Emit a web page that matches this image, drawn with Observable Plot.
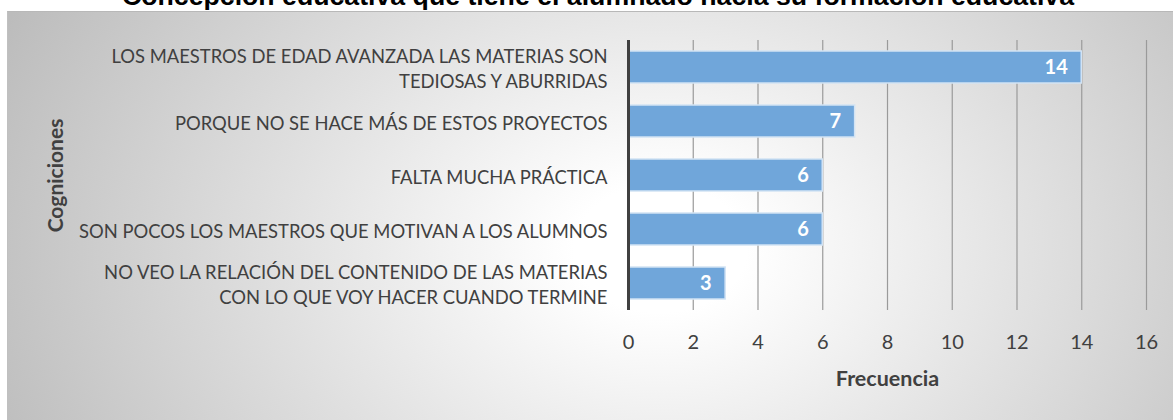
<!DOCTYPE html>
<html>
<head>
<meta charset="utf-8">
<script src="https://cdn.jsdelivr.net/npm/d3@7"></script>
<script src="https://cdn.jsdelivr.net/npm/@observablehq/plot@0.6"></script>
<style>
  html, body { margin: 0; padding: 0; background: #fff; }
  #wrap { position: relative; width: 1173px; height: 420px; overflow: hidden; }
  #box { position: absolute; left: 7px; top: 11px; width: 1166px; height: 409px;
    border-top: 1px solid #b8b8b8; border-left: 1px solid #c0c0c0; box-sizing: border-box;
    background: radial-gradient(ellipse 62% 130% at 56% 58%, #ffffff 12%, #bcbcbc 100%); }
  #title { position: absolute; left: 0; width: 1196px; top: -17px; text-align: center;
    font: bold 26.7px "Liberation Sans", Arial, sans-serif; line-height: 27px; color: #000; white-space: nowrap; }
  #chart { position: absolute; left: 0; top: 0; }
</style>
</head>
<body>
<div id="wrap">
  <div id="box"></div>
  <div id="title">Concepción educativa que tiene el alumnado hacia su formación educativa</div>
  <div id="chart"></div>
</div>
<script>
const categorias = [
  "LOS MAESTROS DE EDAD AVANZADA LAS MATERIAS SON\nTEDIOSAS Y ABURRIDAS",
  "PORQUE NO SE HACE MÁS DE ESTOS PROYECTOS",
  "FALTA MUCHA PRÁCTICA",
  "SON POCOS LOS MAESTROS QUE MOTIVAN A LOS ALUMNOS",
  "NO VEO LA RELACIÓN DEL CONTENIDO DE LAS MATERIAS\nCON LO QUE VOY HACER CUANDO TERMINE"
];
const frecuencias = [14, 7, 6, 6, 3];
const ticksX = [0, 2, 4, 6, 8, 10, 12, 14, 16];
const tituloX = "Frecuencia";
const tituloY = "Cogniciones";

const datos = categorias.map((c, i) => ({categoria: c, frecuencia: frecuencias[i]}));
const font = "Lato, 'Open Sans', sans-serif";

const chart = Plot.plot({
  width: 1173,
  height: 420,
  marginLeft: 628,
  marginRight: 27,
  marginTop: 40,
  marginBottom: 110,
  style: {background: "transparent", fontFamily: font, overflow: "visible"},
  x: {domain: [0, 16], ticks: ticksX},
  y: {domain: categorias, paddingInner: 0.4, paddingOuter: 0.2},
  marks: [
    Plot.gridX(ticksX, {stroke: "#9a9a9a", strokeOpacity: 1, strokeWidth: 1.2}),
    Plot.barX(datos, {x: "frecuencia", y: "categoria", fill: "#70a6da", stroke: "#d2e3f4", strokeWidth: 1.5}),
    Plot.ruleX([0], {stroke: "#404040", strokeWidth: 3}),
    Plot.text(datos, {x: "frecuencia", y: "categoria", text: d => String(d.frecuencia), textAnchor: "end", dx: -14,
      fill: "white", fontWeight: "bold", fontSize: 20}),
    Plot.axisX({ticks: ticksX, tickSize: 0, tickPadding: 24, fontSize: 20, color: "#404040", label: null}),
    Plot.axisY({tickSize: 0, tickPadding: 21, fontSize: 18.4, color: "#404040", label: null, lineHeight: 1.38,
      tickFormat: d => d}),
    Plot.text([tituloX], {frameAnchor: "bottom", lineAnchor: "middle", dy: 69, fontWeight: "bold", fontSize: 21.5, fill: "#404040"}),
    Plot.text([tituloY], {frameAnchor: "left", textAnchor: "middle", dx: -572, rotate: -90, fontWeight: "bold", fontSize: 21, fill: "#404040"})
  ]
});
document.getElementById("chart").appendChild(chart);
</script>
</body>
</html>
